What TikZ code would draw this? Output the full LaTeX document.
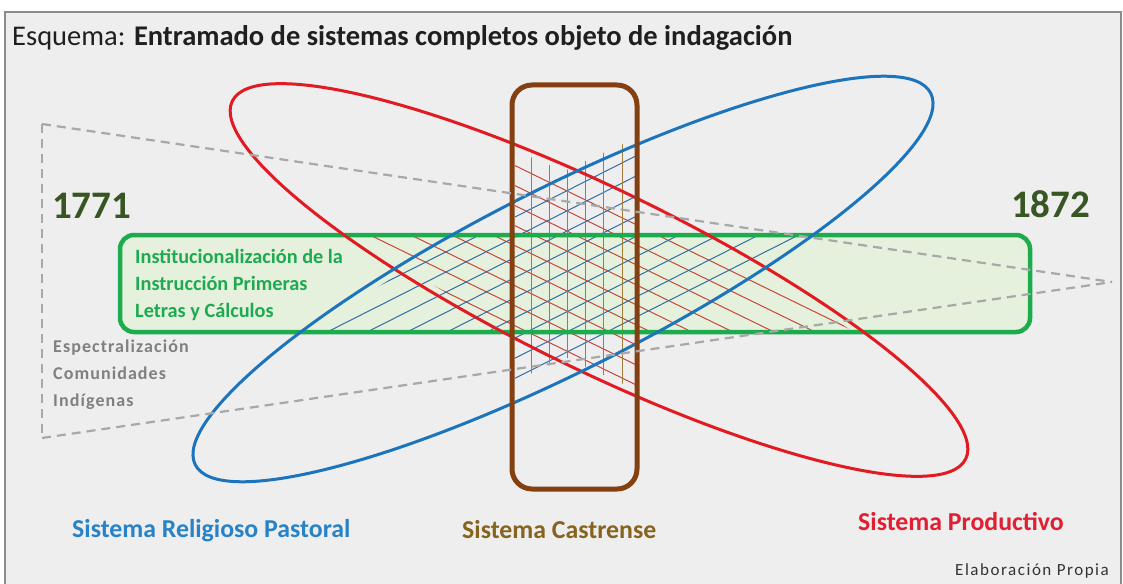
\documentclass[tikz,border=0pt]{standalone}
\usepackage{fontspec}
\setmainfont{Carlito}
\newfontfamily\graysp[LetterSpace=6]{Carlito}
\newfontfamily\credsp[LetterSpace=9]{Carlito}
\definecolor{bgc}{RGB}{238,238,238}
\definecolor{framec}{RGB}{140,140,140}
\definecolor{gfill}{RGB}{229,241,220}
\definecolor{gline}{RGB}{28,172,78}
\definecolor{redE}{RGB}{226,26,34}
\definecolor{blueE}{RGB}{28,117,188}
\definecolor{brownB}{RGB}{133,64,18}
\definecolor{dashg}{RGB}{168,168,168}
\definecolor{redH}{RGB}{200,70,60}
\definecolor{blueH}{RGB}{50,110,165}
\definecolor{brownH}{RGB}{160,125,60}
\definecolor{yearc}{RGB}{55,86,35}
\definecolor{gtext}{RGB}{30,170,80}
\definecolor{graytext}{RGB}{128,128,128}
\definecolor{lblue}{RGB}{40,130,200}
\definecolor{lbrown}{RGB}{135,100,30}
\definecolor{lred}{RGB}{225,30,50}
\begin{document}
\begin{tikzpicture}[x=1pt,y=-1pt,
  txt/.style={inner sep=0pt, anchor=base west},
  yearlbl/.style={txt, text=yearc, font=\bfseries\fontsize{39}{40}\selectfont},
  greenlbl/.style={txt, text=gtext, font=\bfseries\fontsize{20.3}{22}\selectfont},
  graylbl/.style={txt, text=graytext, font=\graysp\bfseries\fontsize{18}{19}\selectfont},
  syslbl/.style={txt, font=\bfseries\fontsize{25.8}{27}\selectfont},
  hatch/.style={line width=1pt},
  triline/.style={dashg, line width=2.2pt, dash pattern=on 9pt off 6pt}]
\useasboundingbox (0,0) rectangle (1123,583);
\fill[white] (0,0) rectangle (1123,583);
\draw[framec, fill=bgc, line width=1.5pt] (5,12) rectangle (1121,600);
% green box fill
\fill[gfill, rounded corners=14pt] (120,235) rectangle (1030,332);
% red hatch
\begin{scope}
  \clip[shift={(599,280)}, rotate=-26] (0,0) ellipse [x radius=400, y radius=83];
  \clip (122,237) rectangle (1028,330) (515,88) rectangle (635,487);
  \foreach \k in {-8,...,8}
    \draw[hatch, redH, shift={(599,280)}, rotate=-26] (-460,6+18*\k) -- (460,6+18*\k);
\end{scope}
% blue hatch
\begin{scope}
  \clip[shift={(563,279)}, rotate=26.8] (0,0) ellipse [x radius=404, y radius=84];
  \clip (122,237) rectangle (1028,330) (515,88) rectangle (635,487);
  \foreach \k in {-8,...,8}
    \draw[hatch, blueH, shift={(563,279)}, rotate=26.8] (-460,-5+18*\k) -- (460,-5+18*\k);
\end{scope}
% brown verticals
\begin{scope}
  \clip[shift={(599,280)}, rotate=-26] (0,0) ellipse [x radius=400, y radius=84]
       [shift={(-36,-1)}, rotate=52.8] (0,0) ellipse [x radius=404, y radius=84];
  \clip (515,88) rectangle (635,487);
  \foreach \x in {531,549.2,567.4,585.6,603.8,622}
    \draw[hatch, brownH] (\x,80) -- (\x,500);
\end{scope}
% green box border
\draw[gline, line width=4.5pt, rounded corners=14pt] (120,235) rectangle (1030,332);
% ellipses
\draw[redE, line width=3pt, shift={(599,280)}, rotate=-26] (0,0) ellipse [x radius=408, y radius=90];
\draw[blueE, line width=3pt, shift={(563,279)}, rotate=26.8] (0,0) ellipse [x radius=412, y radius=91];
% brown box
\draw[brownB, line width=5pt, rounded corners=20pt] (512,85) rectangle (637,489);
% dashed triangle
\coordinate (tA) at (42,124);
\coordinate (tB) at (42,438);
\coordinate (tC) at (1112,282);
\draw[triline] (tA) -- (tC);
\draw[triline] (tB) -- (tC);
\draw[triline] (tA) -- (tB);
% texts
\node[txt, font=\fontsize{28.5}{30}\selectfont, text=black!88] (title) at (12,46) {Esquema: \textbf{Entramado de sistemas completos objeto de indagación}};
\node[yearlbl] (y1771) at (52,218) {1771};
\node[yearlbl] (y1872) at (1011,217) {1872};
\node[greenlbl] (g1) at (135,263) {Institucionalización de la};
\node[greenlbl] (g2) at (135,290) {Instrucción Primeras};
\node[greenlbl] (g3) at (135,317) {Letras y Cálculos};
\node[graylbl] (e1) at (53,352) {Espectralización};
\node[graylbl] (e2) at (53,379) {Comunidades};
\node[graylbl] (e3) at (53,406) {Indígenas};
\node[syslbl, text=lblue] (srp) at (72,537) {Sistema Religioso Pastoral};
\node[syslbl, text=lbrown] (sc) at (462,538) {Sistema Castrense};
\node[syslbl, text=lred] (sp) at (858,530) {Sistema Productivo};
\node[txt, font=\credsp\fontsize{17}{18}\selectfont, text=black!80] (cred) at (955,575) {Elaboración Propia};
\end{tikzpicture}
\end{document}
